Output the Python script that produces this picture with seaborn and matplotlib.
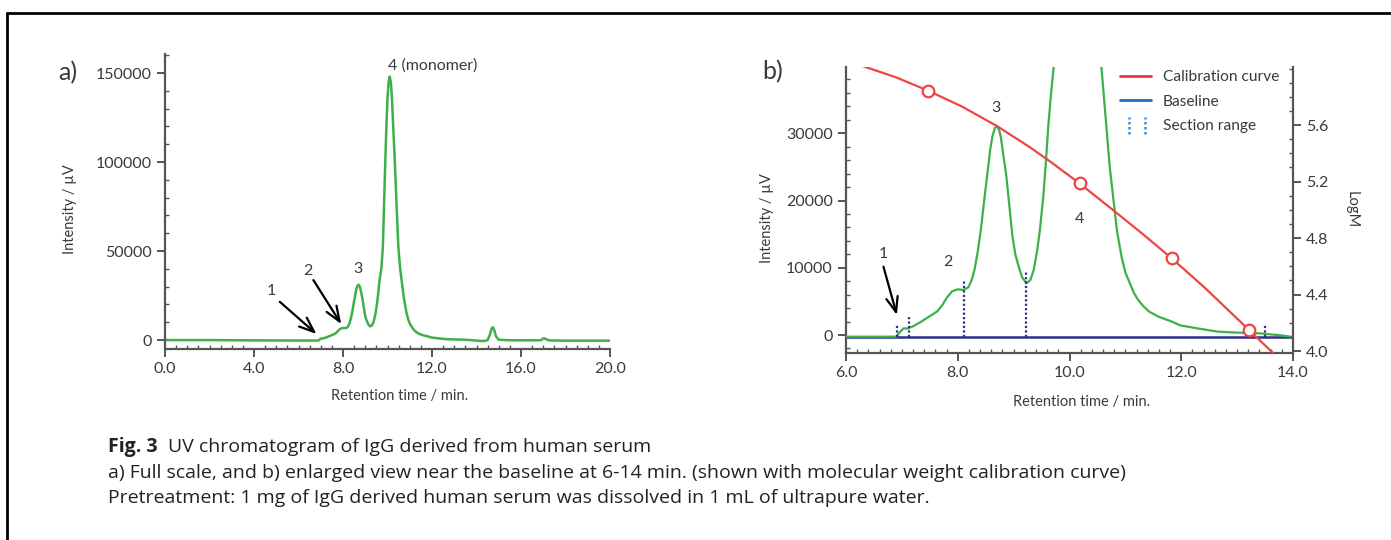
import numpy as np
import pandas as pd
import matplotlib
matplotlib.use("Agg")
import matplotlib.pyplot as plt
import seaborn as sns
from matplotlib.lines import Line2D
from matplotlib.legend_handler import HandlerBase
from matplotlib.ticker import MultipleLocator

# ---------------- data ----------------
ret_time = [0.0, 2.0, 4.0, 6.0, 6.5, 6.9, 6.95, 7.03, 7.1, 7.2, 7.33, 7.48, 7.63, 7.72, 7.8,
            7.9, 8.0, 8.1, 8.19, 8.25, 8.3, 8.36, 8.42, 8.48, 8.53, 8.58, 8.62, 8.66, 8.7,
            8.74, 8.77, 8.82, 8.87, 8.92, 8.98, 9.03, 9.09, 9.15, 9.23, 9.3, 9.36, 9.42,
            9.47, 9.53, 9.58, 9.62, 9.66, 9.73, 9.79, 9.85, 9.9, 9.95, 10.0, 10.05, 10.1,
            10.15, 10.2, 10.25, 10.33, 10.41, 10.49, 10.57, 10.62, 10.67, 10.72, 10.78,
            10.85, 10.93, 11.0, 11.08, 11.15, 11.23, 11.32, 11.42, 11.6, 11.83, 11.98,
            12.28, 12.65, 13.03, 13.4, 13.78, 14.0, 14.2, 14.35, 14.5, 14.6, 14.68, 14.74,
            14.8, 14.88, 15.0, 15.5, 16.9, 16.98, 17.05, 17.15, 17.3, 18.0, 20.0]
intensity = [0, 0, -150, -250, -250, -250, 300, 1000, 950, 1300, 1900, 2700, 3500, 4400, 5500,
             6500, 6800, 6700, 7100, 8200, 9700, 12500, 16100, 20500, 24000, 27500, 29500,
             30700, 31100, 30500, 29500, 26500, 23600, 19500, 14600, 12000, 10200, 8600,
             7700, 8200, 9700, 12500, 15600, 20500, 26000, 31000, 35000, 41000, 52000,
             78000, 100000, 120000, 136000, 145000, 148000, 145000, 136000, 122000, 100000,
             75000, 52000, 40000, 35000, 30000, 25000, 20600, 15500, 11700, 9300, 7700,
             6300, 5200, 4300, 3500, 2700, 2000, 1440, 1000, 500, 350, 250, -50, -300,
             -500, -500, 0, 3000, 6500, 7200, 5500, 2000, 200, -100, -100, 900, 1000, 300,
             -200, -300, -300]

calib_time = [6.28, 6.9, 7.47, 8.08, 8.70, 9.28, 9.66, 10.18, 10.78, 11.30, 11.83, 12.43, 13.21, 13.64]
calib_logm = [6.02, 5.937, 5.843, 5.73, 5.593, 5.446, 5.34, 5.187, 4.998, 4.832, 4.656, 4.445, 4.15, 3.987]
std_time = [7.47, 10.18, 11.83, 13.21]
std_logm = [5.843, 5.187, 4.656, 4.15]

baseline_level = -250
section_time = [6.92, 7.13, 8.12, 9.23, 13.5]
section_top = [1500, 2700, 8200, 9300, 1700]

caption_title = "Fig. 3"
caption_lines = ["UV chromatogram of IgG derived from human serum",
                 "a) Full scale, and b) enlarged view near the baseline at 6-14 min. (shown with molecular weight calibration curve)",
                 "Pretreatment: 1 mg of IgG derived human serum was dissolved in 1 mL of ultrapure water."]

chrom = pd.DataFrame({"t": ret_time, "I": intensity})
calib = pd.DataFrame({"t": calib_time, "logM": calib_logm})
std = pd.DataFrame({"t": std_time, "logM": std_logm})

# ---------------- style ----------------
sns.set_theme(style="ticks")
plt.rcParams["font.family"] = ["Lato", "DejaVu Sans"]
TXT = "#3a3a3a"
SP = "#555555"
GREEN = "#3db04b"
RED = "#ee4444"
NAVY = "#2a2f8a"

W, H = 1391, 540
fig = plt.figure(figsize=(W / 100, H / 100), dpi=100)

def fx(px):
    return px / W

def fy(py):
    return 1 - py / H

def style_axis(ax, spines=("left", "bottom")):
    for s in ["left", "right", "top", "bottom"]:
        ax.spines[s].set_visible(s in spines)
        ax.spines[s].set_color(SP)
        ax.spines[s].set_linewidth(1.6)
    ax.tick_params(which="major", direction="out", length=6, width=1.4, color=SP,
                   labelsize=11.5, labelcolor=TXT)
    ax.tick_params(which="minor", direction="in", length=3, width=1.0, color=SP)
    ax.set_facecolor("none")

# ---------------- panel a ----------------
axa = fig.add_axes([fx(165), fy(349), fx(610) - fx(165), fy(54) - fy(349)])
sns.lineplot(data=chrom, x="t", y="I", ax=axa, color=GREEN, lw=1.8, sort=False, estimator=None)
axa.set_xlim(0, 20)
axa.set_ylim(-5000, 160700)
axa.xaxis.set_major_locator(MultipleLocator(4))
axa.xaxis.set_minor_locator(MultipleLocator(0.5))
axa.yaxis.set_major_locator(MultipleLocator(50000))
axa.yaxis.set_minor_locator(MultipleLocator(10000))
axa.set_xticklabels([f"{v:.1f}" for v in axa.get_xticks()])
style_axis(axa)
axa.set_xlabel("")
axa.set_ylabel("")

arrow_kw = dict(arrowstyle="->,head_length=0.9,head_width=0.35", lw=1.6, color="black",
                shrinkA=0, shrinkB=0)
axa.annotate("", xy=(6.81, 3400), xytext=(5.16, 21500), arrowprops=arrow_kw)
axa.annotate("", xy=(7.92, 9000), xytext=(6.67, 33700), arrowprops=arrow_kw)
axa.text(4.79, 27700, "1", ha="center", va="center", fontsize=11.5, color=TXT)
axa.text(6.40, 38900, "2", ha="center", va="center", fontsize=11.5, color=TXT)
axa.text(8.66, 39900, "3", ha="center", va="center", fontsize=11.5, color=TXT)
axa.text(10.0, 154000, "4 (monomer)", ha="left", va="center", fontsize=11.5, color=TXT)

# ---------------- panel b ----------------
axb = fig.add_axes([fx(846), fy(353.3), fx(1293) - fx(846), fy(66.7) - fy(353.3)])
axb.set_xlim(6, 14)
axb.set_ylim(-2720, 39900)
axb.axhline(baseline_level, color=NAVY, lw=1.8, zorder=2)
sns.lineplot(data=chrom, x="t", y="I", ax=axb, color=GREEN, lw=1.6, sort=False, estimator=None, zorder=3)
axb.vlines(section_time, baseline_level, section_top, colors=NAVY, linestyles=(0, (1, 1)), lw=1.6, zorder=4)
axb.xaxis.set_major_locator(MultipleLocator(2))
axb.xaxis.set_minor_locator(MultipleLocator(0.2))
axb.yaxis.set_major_locator(MultipleLocator(10000))
axb.yaxis.set_minor_locator(MultipleLocator(2000))
axb.set_xticklabels([f"{v:.1f}" for v in axb.get_xticks()])
style_axis(axb)
axb.set_xlabel("")
axb.set_ylabel("")

axr = axb.twinx()
sns.lineplot(data=calib, x="t", y="logM", ax=axr, color=RED, lw=1.6, sort=False, estimator=None)
sns.scatterplot(data=std, x="t", y="logM", ax=axr, marker="o", s=70, facecolor="white",
                edgecolor=RED, linewidth=1.6, zorder=5)
axr.set_ylim(3.984, 6.013)
axr.set_xlim(6, 14)
axr.yaxis.set_minor_locator(MultipleLocator(0.1))
axr.set_yticks([4.0, 4.4, 4.8, 5.2, 5.6])
axr.set_yticklabels(["4.0", "4.4", "4.8", "5.2", "5.6"])
style_axis(axr, spines=("right",))
axr.set_xlabel("")
axr.set_ylabel("")

axb.annotate("", xy=(6.91, 2980), xytext=(6.67, 10170), arrowprops=arrow_kw)
axb.text(6.67, 12000, "1", ha="center", va="center", fontsize=11.5, color=TXT)
axb.text(7.82, 10900, "2", ha="center", va="center", fontsize=11.5, color=TXT)
axb.text(8.68, 33700, "3", ha="center", va="center", fontsize=11.5, color=TXT)
axb.text(10.18, 17200, "4", ha="center", va="center", fontsize=11.5, color=TXT)


class SectionHandler(HandlerBase):
    def create_artists(self, legend, orig_handle, xdescent, ydescent, width, height, fontsize, trans):
        arts = []
        for f in (0.3, 0.8):
            x0 = -xdescent + f * width
            ln = Line2D([x0, x0], [-ydescent - 0.35 * height, -ydescent + 1.25 * height],
                        color="#3a8fd6", lw=1.8, ls=(0, (1, 1)), transform=trans)
            arts.append(ln)
        return arts


h_cal = Line2D([], [], color="#e8383d", lw=2)
h_base = Line2D([], [], color="#1a70c0", lw=2)
h_sec = object()
leg = axr.legend([h_cal, h_base, h_sec], ["Calibration curve", "Baseline", "Section range"],
                 handler_map={object: SectionHandler()}, loc="upper left",
                 bbox_to_anchor=(fx(1120), fy(70)), bbox_transform=fig.transFigure,
                 frameon=False, fontsize=11.2, handlelength=2.0, handletextpad=0.75,
                 labelspacing=0.68, borderaxespad=0, borderpad=0)
for t in leg.get_texts():
    t.set_color(TXT)

# ---------------- labels ----------------
fig.text(fx(68), fy(73), "a)", fontsize=18, color=TXT, ha="center", va="center")
fig.text(fx(773), fy(72), "b)", fontsize=18, color=TXT, ha="center", va="center")
fig.text(fx(70), fy(209), "Intensity / µV", rotation=90, fontsize=10.5, color=TXT, ha="center", va="center")
fig.text(fx(767), fy(218), "Intensity / µV", rotation=90, fontsize=10.5, color=TXT, ha="center", va="center")
fig.text(fx(1352), fy(210), "LogM", rotation=270, fontsize=10.5, color=TXT, ha="center", va="center")
fig.text(fx(400), fy(396), "Retention time / min.", fontsize=10.5, color=TXT, ha="center", va="center")
fig.text(fx(1082), fy(402), "Retention time / min.", fontsize=10.5, color=TXT, ha="center", va="center")

cap_kw = dict(fontsize=14.0, color="#222222", ha="left", va="center", family=["Open Sans", "DejaVu Sans"])
t_title = fig.text(fx(108), fy(447), caption_title, fontweight="bold", **cap_kw)
fig.canvas.draw()
bb = t_title.get_window_extent(renderer=fig.canvas.get_renderer())
fig.text(fx(bb.x1 + 10), fy(447), caption_lines[0], **cap_kw)
fig.text(fx(108), fy(473), caption_lines[1], **cap_kw)
fig.text(fx(108), fy(498), caption_lines[2], **cap_kw)

# border (left and top)
fig.add_artist(Line2D([fx(7), fx(7)], [0, fy(13)], color="black", lw=2, transform=fig.transFigure))
fig.add_artist(Line2D([fx(7), 1], [fy(13), fy(13)], color="black", lw=2, transform=fig.transFigure))

fig.savefig("out.png", dpi=100, facecolor="white")
